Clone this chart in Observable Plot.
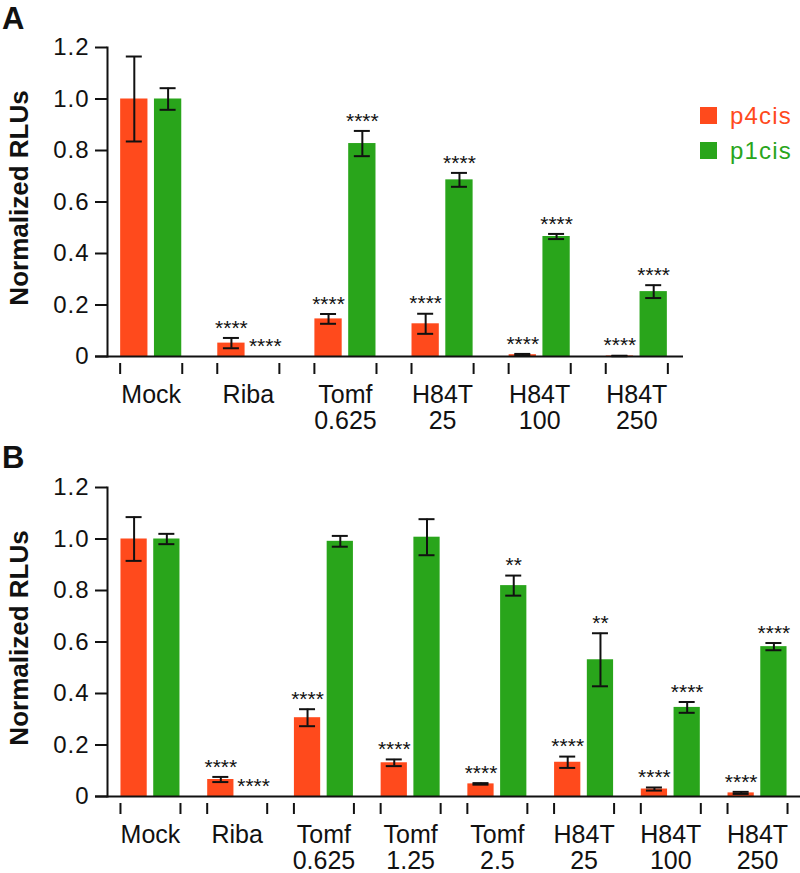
<!DOCTYPE html>
<html><head><meta charset="utf-8">
<script src="https://cdn.jsdelivr.net/npm/d3@7"></script>
<script src="https://cdn.jsdelivr.net/npm/@observablehq/plot@0.6"></script>
<style>
body{margin:0;background:#fff;font-family:"Liberation Sans",Arial,sans-serif;color:#111;}
#wrap{position:relative;width:800px;height:873px;overflow:hidden;}
.panel{position:absolute;left:0;}
.letter{position:absolute;left:2px;font-weight:bold;font-size:31px;line-height:1;}
.lg{position:absolute;left:700px;height:17px;font-size:24px;line-height:17px;white-space:nowrap;letter-spacing:1.2px;}
.lg .sw{display:inline-block;width:17px;height:17px;vertical-align:top;}
.lg .tx{position:absolute;left:30px;top:0;}
svg g[aria-label="y-axis tick label"] text{letter-spacing:1px;}
svg g[aria-label="category"] text{letter-spacing:1.3px;}
svg g[aria-label="significance"] text{letter-spacing:0.3px;}
svg g[aria-label="y label"] text{letter-spacing:0.8px;}
</style></head>
<body><div id="wrap"></div>
<script>
// ---- data ----
const series = ["p4cis", "p1cis"];
const seriesColors = ["#FF4A1C", "#29A51B"];
const yTicks = [0, 0.2, 0.4, 0.6, 0.8, 1.0, 1.2];
const yLabel = "Normalized RLUs";

const groupsA = ["Mock", "Riba", "Tomf\n0.625", "H84T\n25", "H84T\n100", "H84T\n250"];
const p4cisA = [1.0, 0.052, 0.146, 0.127, 0.007, 0.002];
const p4cisErrA = [0.165, 0.020, 0.019, 0.039, 0.003, 0.001];
const p1cisA = [1.0, 0.0, 0.827, 0.686, 0.466, 0.252];
const p1cisErrA = [0.042, 0.0, 0.049, 0.027, 0.010, 0.025];
const sigP4A = ["", "****", "****", "****", "****", "****"];
const sigP1A = ["", "****", "****", "****", "****", "****"];

const groupsB = ["Mock", "Riba", "Tomf\n0.625", "Tomf\n1.25", "Tomf\n2.5", "H84T\n25", "H84T\n100", "H84T\n250"];
const p4cisB = [1.0, 0.066, 0.306, 0.131, 0.049, 0.133, 0.029, 0.014];
const p4cisErrB = [0.085, 0.010, 0.033, 0.013, 0.003, 0.022, 0.006, 0.004];
const p1cisB = [1.0, 0.0, 0.991, 1.007, 0.819, 0.531, 0.346, 0.582];
const p1cisErrB = [0.020, 0.0, 0.021, 0.070, 0.039, 0.103, 0.021, 0.014];
const sigP4B = ["", "****", "****", "****", "****", "****", "****", "****"];
const sigP1B = ["", "****", "", "", "**", "**", "****", "****"];

// ---- drawing ----
const FONT = "'Liberation Sans', Arial, sans-serif";
const INK = "#111";

function panel({groups, p4, p4e, p1, p1e, s4, s1, height, marginRight, pi, po, baseInsetRight}) {
  const width = 800, marginLeft = 107, marginTop = 47, marginBottom = height - 356;
  const n = groups.length;
  const step = (width - marginRight - marginLeft) / (n - pi + 2 * po);
  const bw = step * (1 - pi);
  const o = 1.5, gap = 6.5, cap = 16;
  const barW = (bw - 2 * o - gap) / 2;
  const vals = [p4, p1], errs = [p4e, p1e], sigs = [s4, s1];
  const marks = [];
  series.forEach((s, k) => {
    const rows = groups.map((g, i) => ({group: g, value: vals[k][i], err: errs[k][i], sig: sigs[k][i]}));
    const L = o + k * (barW + gap);
    const c = L + barW / 2 - bw / 2;
    marks.push(Plot.barY(rows, {x: "group", y: "value", fill: seriesColors[k], insetLeft: L, insetRight: bw - L - barW}));
    const er = rows.filter(d => d.err > 0);
    marks.push(Plot.ruleX(er, {x: "group", y1: d => d.value - d.err, y2: d => d.value + d.err, dx: c, stroke: INK, strokeWidth: 2}));
    const capIn = {insetLeft: L + barW / 2 - cap / 2, insetRight: bw - (L + barW / 2 + cap / 2)};
    marks.push(Plot.tickY(er, {x: "group", y: d => d.value + d.err, stroke: INK, strokeWidth: 2, ...capIn}));
    marks.push(Plot.tickY(er, {x: "group", y: d => d.value - d.err, stroke: INK, strokeWidth: 2, ...capIn}));
    marks.push(Plot.text(rows.filter(d => d.sig), {x: "group", y: d => d.value + d.err, text: "sig", dx: c, dy: -10,
      fontSize: 21, fill: INK, ariaLabel: "significance"}));
  });
  // axes
  marks.push(Plot.axisY(yTicks, {tickSize: 12, tickPadding: 6, fontSize: 24, strokeWidth: 2, stroke: INK, fill: INK,
    tickFormat: d => d === 0 ? "0" : d.toFixed(1), label: null}));
  marks.push(Plot.frame({anchor: "left", strokeWidth: 2, stroke: INK}));
  marks.push(Plot.ruleY([0], {strokeWidth: 2, stroke: INK, insetLeft: -12, insetRight: baseInsetRight}));
  marks.push(Plot.text([yLabel], {frameAnchor: "left", textAnchor: "middle", lineAnchor: "middle", rotate: -90, dx: -88, dy: -4,
    fontWeight: "bold", fontSize: 26, fill: INK, ariaLabel: "y label"}));
  // brackets
  marks.push(Plot.ruleY(groups, {x: d => d, y: 0, dy: 17, strokeWidth: 2, stroke: INK}));
  marks.push(Plot.ruleX(groups, {x: d => d, y1: 0, y2: 0, insetTop: 7, insetBottom: -18, dx: -(bw / 2 - 1), strokeWidth: 2, stroke: INK}));
  marks.push(Plot.ruleX(groups, {x: d => d, y1: 0, y2: 0, insetTop: 7, insetBottom: -18, dx: (bw / 2 - 1), strokeWidth: 2, stroke: INK}));
  // category labels
  marks.push(Plot.text(groups, {x: d => d, y: 0, text: d => d, lineAnchor: "top", dy: 28, fontSize: 25, lineHeight: 1.04,
    fill: INK, ariaLabel: "category"}));
  return Plot.plot({
    width, height, marginLeft, marginRight, marginTop, marginBottom,
    style: {fontFamily: FONT, color: INK, background: "transparent", overflow: "visible"},
    x: {type: "band", domain: groups, paddingInner: pi, paddingOuter: po, round: false, axis: null},
    y: {domain: [0, 1.2], axis: null},
    marks
  });
}

const wrap = document.getElementById("wrap");
const svgA = panel({groups: groupsA, p4: p4cisA, p4e: p4cisErrA, p1: p1cisA, p1e: p1cisErrA, s4: sigP4A, s1: sigP1A,
  height: 440, marginRight: 120, pi: 0.34, po: 0.12, baseInsetRight: -3});
svgA.classList.add("panel"); svgA.style.top = "0px";
wrap.appendChild(svgA);
const svgB = panel({groups: groupsB, p4: p4cisB, p4e: p4cisErrB, p1: p1cisB, p1e: p1cisErrB, s4: sigP4B, s1: sigP1B,
  height: 433, marginRight: 0, pi: 0.285, po: 0.138, baseInsetRight: 0});
svgB.classList.add("panel"); svgB.style.top = "440px";
wrap.appendChild(svgB);

// panel letters
[["A", 3], ["B", 442]].forEach(([t, top]) => {
  const d = document.createElement("div"); d.className = "letter"; d.textContent = t; d.style.top = top + "px"; wrap.appendChild(d);
});
// legend
series.forEach((s, k) => {
  const row = document.createElement("div"); row.className = "lg"; row.style.top = (107 + 35 * k) + "px";
  const sw = document.createElement("span"); sw.className = "sw"; sw.style.background = seriesColors[k];
  const tx = document.createElement("span"); tx.className = "tx"; tx.textContent = s; tx.style.color = seriesColors[k];
  row.appendChild(sw); row.appendChild(tx); wrap.appendChild(row);
});
</script></body></html>
